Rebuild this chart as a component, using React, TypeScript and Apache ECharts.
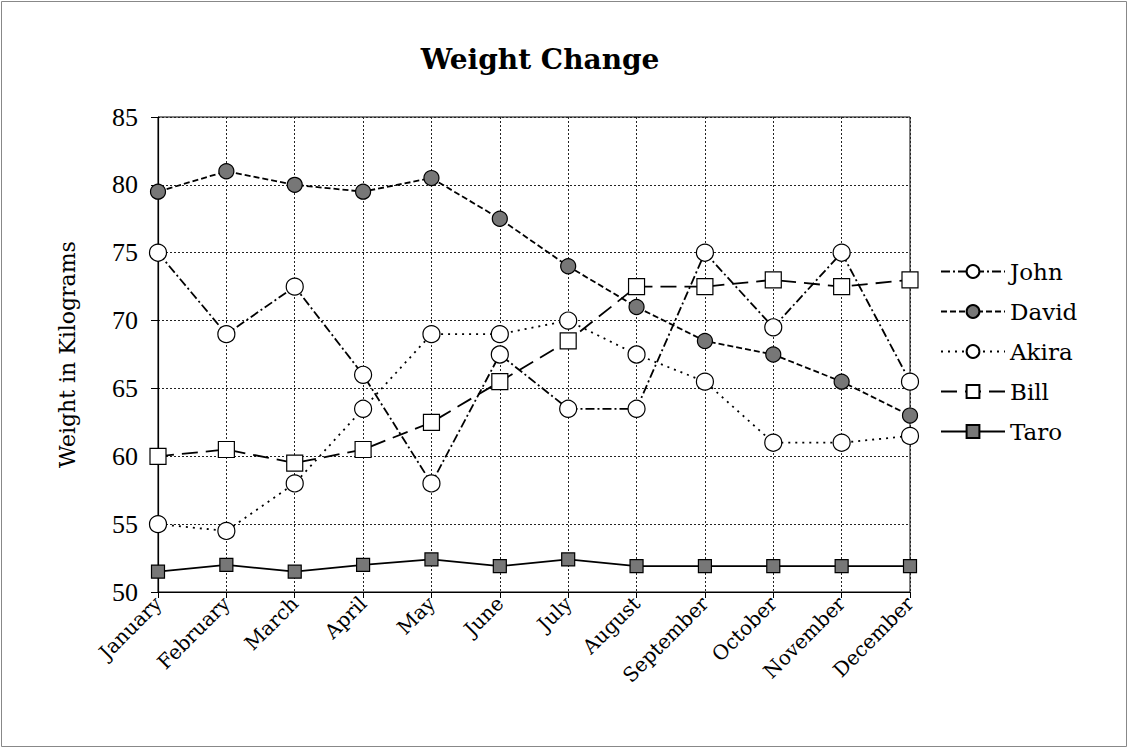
import React, { useEffect, useRef } from "react";
import * as echarts from "echarts";

const months = ["January", "February", "March", "April", "May", "June", "July", "August", "September", "October", "November", "December"];
const john = [75, 69, 72.5, 66, 58, 67.5, 63.5, 63.5, 75, 69.5, 75, 65.5];
const david = [79.5, 81, 80, 79.5, 80.5, 77.5, 74, 71, 68.5, 67.5, 65.5, 63];
const akira = [55, 54.5, 58, 63.5, 69, 69, 70, 67.5, 65.5, 61, 61, 61.5];
const bill = [60, 60.5, 59.5, 60.5, 62.5, 65.5, 68.5, 72.5, 72.5, 73, 72.5, 73];
const taro = [51.5, 52, 51.5, 52, 52.4, 51.9, 52.4, 51.9, 51.9, 51.9, 51.9, 51.9];

const serif = "'DejaVu Serif', serif";

export default function App() {
  const ref = useRef<HTMLDivElement>(null);
  useEffect(() => {
    const chart = echarts.init(ref.current!, null, { renderer: "svg" });
    const mk = (name: string, data: number[], dash: any, symbol: string, size: number, fill: string) => ({
      name,
      type: "line",
      data,
      symbol,
      symbolSize: size,
      showAllSymbol: true,
      lineStyle: { color: "#000", width: 1.8, type: dash },
      itemStyle: { color: fill, borderColor: "#000", borderWidth: 1.2 },
      emphasis: { disabled: true },
      z: 3,
    });
    chart.setOption({
      animation: false,
      backgroundColor: "#fff",
      title: {
        text: "Weight Change",
        left: 535,
        textAlign: "center",
        top: 40,
        textStyle: { fontFamily: serif, fontWeight: "bold", fontSize: 28, color: "#000" },
      },
      graphic: [
        { type: "rect", shape: { x: 1.5, y: 1.5, width: 1125, height: 745 }, style: { fill: "none", stroke: "#888", lineWidth: 1 } },
      ],
      grid: { left: 158, right: 219, top: 117, bottom: 157, show: true, borderColor: "#000", borderWidth: 1 },
      legend: {
        orient: "vertical",
        left: 935,
        top: 253,
        itemWidth: 64,
        itemHeight: 16,
        itemGap: 13,
        textStyle: { fontFamily: serif, fontSize: 23, color: "#000", lineHeight: 27 },
        data: ["John", "David", "Akira", "Bill", "Taro"],
      },
      xAxis: {
        type: "category",
        data: months,
        boundaryGap: false,
        axisLine: { lineStyle: { color: "#000", width: 1.2 } },
        axisTick: { show: true, length: 6, lineStyle: { color: "#000" } },
        axisLabel: { rotate: 45, fontFamily: serif, fontSize: 20, color: "#000", margin: 8, interval: 0 },
        splitLine: { show: true, lineStyle: { type: [2, 2], color: "#222", width: 1 } },
      },
      yAxis: {
        type: "value",
        min: 50,
        max: 85,
        interval: 5,
        name: "Weight in Kilograms",
        nameLocation: "middle",
        nameGap: 80,
        nameTextStyle: { fontFamily: serif, fontSize: 22, color: "#000" },
        axisLine: { show: true, lineStyle: { color: "#000", width: 1.2 } },
        axisTick: { show: true, length: 7, lineStyle: { color: "#000" } },
        axisLabel: { fontFamily: "'Liberation Serif', serif", fontSize: 26, color: "#000", margin: 20 },
        splitLine: { show: true, lineStyle: { type: [2, 2], color: "#222", width: 1 } },
      },
      series: [
        mk("John", john, [9, 3, 2, 3], "circle", 17, "#fff"),
        mk("David", david, [6, 3], "circle", 15, "#777"),
        mk("Akira", akira, [2, 5], "circle", 17, "#fff"),
        mk("Bill", bill, [16, 8], "rect", 16, "#fff"),
        mk("Taro", taro, "solid", "rect", 13, "#777"),
      ],
    });
    return () => chart.dispose();
  }, []);
  return <div ref={ref} style={{ position: "fixed", left: 0, top: 0, width: 1129, height: 749 }} />;
}
